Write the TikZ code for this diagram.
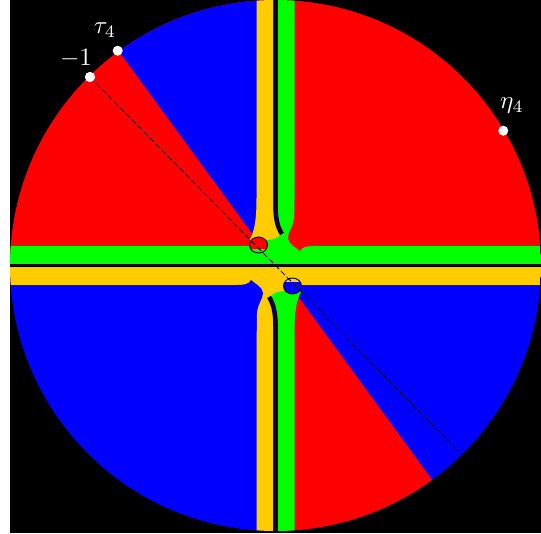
\documentclass[tikz,border=0pt]{standalone}
\usepackage{tikz}
\definecolor{cred}{RGB}{255,0,0}
\definecolor{cblue}{RGB}{0,0,255}
\definecolor{cgreen}{RGB}{0,255,0}
\definecolor{cgold}{RGB}{255,204,0}
\definecolor{cnavy}{RGB}{0,0,140}
\newcommand{\biglbl}[1]{\scalebox{2.5}{#1}}
\tikzset{
  dotpt/.style={circle, fill=white, inner sep=0pt, minimum size=10pt},
  lbl/.style={text=white, inner sep=0pt},
  diag/.style={black, line width=0.8pt, dash pattern=on 6pt off 2.5pt}
}
% #1 main colour, #2 wedge colour, #3 strip colour A, #4 strip colour B
\newcommand{\halfplot}[4]{%
\begin{scope}
\clip (-20,-20) rectangle (580,265.5);
\fill[#1] (-20,-20) rectangle (580,266);
\fill[#2] (275.5,265.5) -- (37.6,-60) -- (266,-60) -- (266,265.5) -- cycle;
\fill[#3] (-20,246) rectangle (580,263.8);
\fill[#3] (277.75,-20) -- (294.5,-20) -- (294.5,265) -- (262,265) -- (262,228) -- (277.75,228) -- cycle;
\fill[#1] (294.5,200) -- (294.5,212) .. controls (294.5,228) and (288,231) .. (288,238)
   .. controls (289,245) and (296,247) .. (300,251) .. controls (302,247) and (306,246) .. (314,246) -- (314,200) -- cycle;
\fill[#4] (256.5,-20) -- (256.5,198) .. controls (256.5,222) and (254,232) .. (249.5,240) -- (266,240)
   .. controls (272,240) and (278,238) .. (281,234) .. controls (277,226) and (273.25,218) .. (273.25,205) -- (273.25,-20) -- cycle;
\draw[black, line width=4.5pt] (275.5,-20) -- (275.5,205) .. controls (275.5,220) and (278,228) .. (282,234);
\draw[cnavy, line width=1.4pt] (275.5,-20) -- (275.5,205) .. controls (275.5,218) and (277,225) .. (279,230);
\fill[black] (-20,263.8) rectangle (580,266);
\fill[cnavy] (-20,264.8) rectangle (580,266);
\fill[#3] (258.5,245) ellipse [x radius=9pt, y radius=8pt];
\begin{scope}
\clip (240,230) rectangle (280,248.5);
\fill[#1] (258.5,245) ellipse [x radius=9pt, y radius=8pt];
\end{scope}
\draw[black, line width=0.9pt] (258.5,245) ellipse [x radius=9pt, y radius=8pt];
\end{scope}}
\begin{document}
\begin{tikzpicture}[x=1pt, y=-1pt]
\useasboundingbox (0,0) rectangle (541,533);
\fill[black] (10,0) rectangle (541,533);
\coordinate (C) at (275.5,265.5);
\begin{scope}
\clip (C) circle (265.5pt);
\halfplot{cred}{cblue}{cgreen}{cgold}
\begin{scope}[rotate around={180:(C)}]
\halfplot{cblue}{cred}{cgold}{cgreen}
\end{scope}
\end{scope}
\node[dotpt] (m1) at (90,77) {};
\node[dotpt] (tau) at (117.7,50.7) {};
\node[dotpt] (eta) at (503.3,130.7) {};
\coordinate (anti) at (461,454);
\draw[diag] (m1.center) -- (anti);
\node[dotpt] at (m1) {};
\node[lbl] (lm1) at (76,58) {\biglbl{$-1$}};
\node[lbl] (ltau) at (105,30) {\biglbl{$\tau_4$}};
\node[lbl] (leta) at (512,106) {\biglbl{$\eta_4$}};
\end{tikzpicture}
\end{document}
